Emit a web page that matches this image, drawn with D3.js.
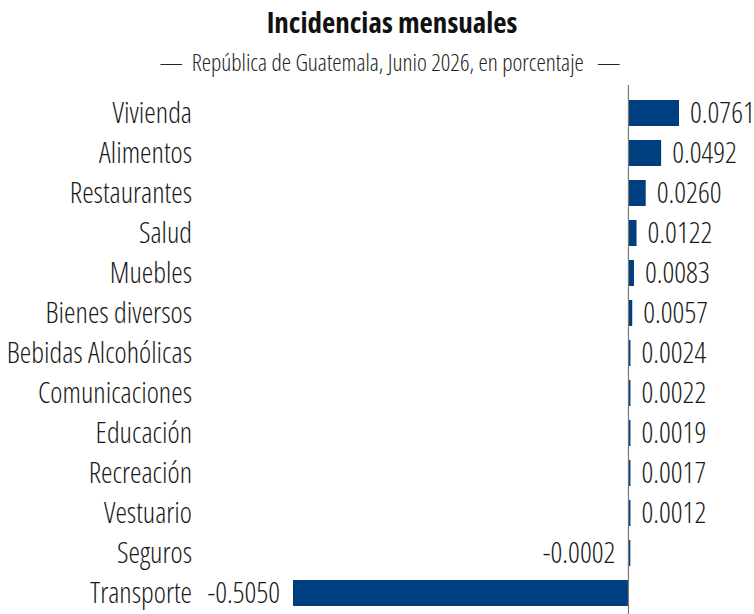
<!DOCTYPE html>
<html><head><meta charset="utf-8">
<script src="https://cdn.jsdelivr.net/npm/d3@7"></script>
<style>
body{margin:0;background:#fff;}
text{font-family:"Open Sans",sans-serif;font-stretch:75%;}
</style></head>
<body><svg id="c" width="754" height="614"></svg>
<script>
const categories=["Vivienda","Alimentos","Restaurantes","Salud","Muebles","Bienes diversos","Bebidas Alcohólicas","Comunicaciones","Educación","Recreación","Vestuario","Seguros","Transporte"];
const values=[0.0761,0.0492,0.0260,0.0122,0.0083,0.0057,0.0024,0.0022,0.0019,0.0017,0.0012,-0.0002,-0.5050];
const labels=["0.0761","0.0492","0.0260","0.0122","0.0083","0.0057","0.0024","0.0022","0.0019","0.0017","0.0012","-0.0002","-0.5050"];
const title="Incidencias mensuales";
const subtitle="—  República de Guatemala, Junio 2026, en porcentaje   —";

const svg=d3.select("#c");
const W=754,H=614;
const x=d3.scaleLinear().domain([d3.min(values),d3.max(values)]).range([293,679]);
const y=d3.scaleBand().domain(categories).range([93,613]).paddingInner(0.35).paddingOuter(0.175);

svg.append("text").attr("x",392).attr("y",32.5).attr("text-anchor","middle")
  .style("font-weight",700).style("font-size","29px").attr("fill","#111").text(title);
svg.append("text").attr("x",390).attr("y",70.5).attr("text-anchor","middle")
  .style("white-space","pre")
  .style("font-weight",300).style("font-size","23.5px").attr("fill","#222").text(subtitle);

svg.selectAll("rect.bar").data(values).join("rect").attr("class","bar")
  .attr("x",d=>x(Math.min(0,d))).attr("width",d=>Math.max(2,Math.abs(x(d)-x(0))))
  .attr("y",(d,i)=>y(categories[i])).attr("height",y.bandwidth()).attr("fill","#003f7f");

svg.append("line").attr("x1",x(0)).attr("x2",x(0)).attr("y1",85).attr("y2",H)
  .attr("stroke","#777").attr("stroke-width",1.2);

svg.selectAll("text.cat").data(categories).join("text").attr("class","cat")
  .attr("x",192).attr("y",d=>y(d)+y.bandwidth()/2).attr("dy","0.34em").attr("text-anchor","end")
  .style("font-weight",300).style("font-size","29px").attr("fill","#1a1a1a").text(d=>d);

svg.selectAll("text.val").data(values).join("text").attr("class","val")
  .attr("x",d=>d>=0?Math.max(x(d),x(0)+2)+11:x(d)-13)
  .attr("y",(d,i)=>y(categories[i])+y.bandwidth()/2).attr("dy","0.34em")
  .attr("text-anchor",d=>d>=0?"start":"end")
  .style("font-weight",300).style("font-size","29px").attr("fill","#1a1a1a").text((d,i)=>labels[i]);
</script></body></html>
